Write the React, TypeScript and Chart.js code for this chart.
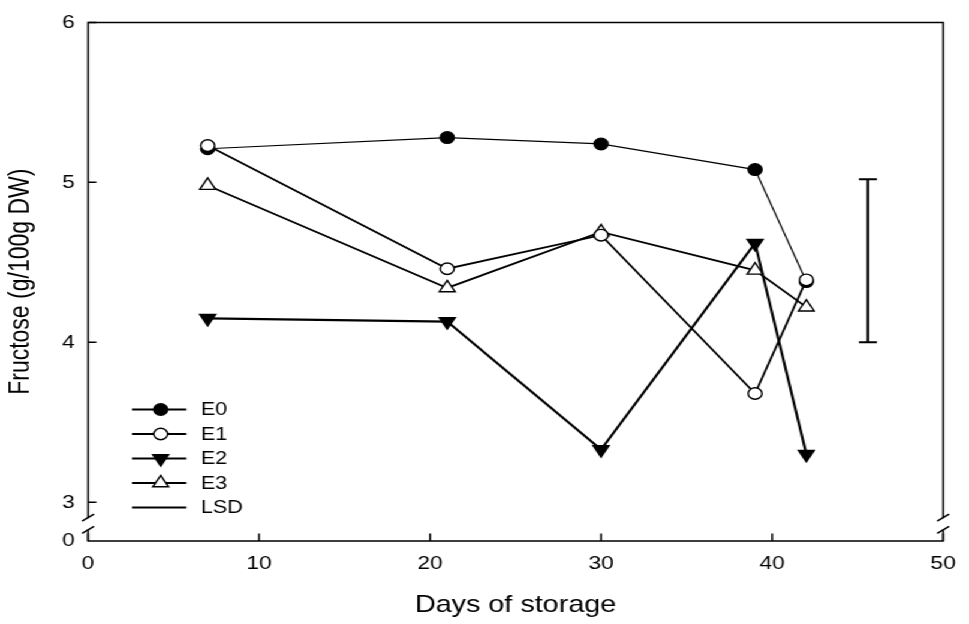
import React, { useEffect, useRef } from 'react';
import { Chart, registerables } from 'chart.js';

Chart.register(...registerables);

// ---------------- data ----------------
const days = [7, 21, 30, 39, 42];
const e0 = [5.21, 5.28, 5.24, 5.08, 4.38];
const e1 = [5.23, 4.46, 4.67, 3.68, 4.39];
const e2 = [4.15, 4.13, 3.33, 4.62, 3.30];
const e3 = [4.98, 4.34, 4.69, 4.45, 4.22];
const lsdDay = [45.6, 45.6];
const lsdRange = [4.0, 5.02];
const seriesNames = ['E0', 'E1', 'E2', 'E3', 'LSD'];
const xTickValues = [0, 10, 20, 30, 40, 50];
const yTickValues = [3, 4, 5, 6];
const yZeroAt = 2.758; // where the broken axis shows its "0"

// ---------------- geometry / style ----------------
const W = 808;
const H = 624;
const SX = 969 / W;
const FONT = '"Liberation Sans", Arial, Helvetica, sans-serif';

const toPts = (ys: number[]) => days.map((d, i) => ({ x: d, y: ys[i] }));

function drawMarker(ctx: CanvasRenderingContext2D, style: string, x: number, y: number, r: number, rotDeg: number, fill: string, stroke: string, bw: number) {
  ctx.save();
  ctx.beginPath();
  if (style === 'circle') {
    ctx.arc(x, y, r, 0, Math.PI * 2);
  } else {
    let rad = (rotDeg * Math.PI) / 180;
    const step = (Math.PI * 2) / 3;
    ctx.moveTo(x + Math.sin(rad) * r, y - Math.cos(rad) * r);
    rad += step;
    ctx.lineTo(x + Math.sin(rad) * r, y - Math.cos(rad) * r);
    rad += step;
    ctx.lineTo(x + Math.sin(rad) * r, y - Math.cos(rad) * r);
    ctx.closePath();
  }
  ctx.fillStyle = fill;
  ctx.fill();
  ctx.lineWidth = bw;
  ctx.strokeStyle = stroke;
  ctx.stroke();
  ctx.restore();
}

const framePlugin = {
  id: 'frameAndBreaks',
  beforeDatasetsDraw(chart: any) {
    const { ctx, chartArea, scales } = chart;
    const { left, right, top, bottom } = chartArea;
    const y = scales.y;
    const x = scales.x;
    ctx.save();
    ctx.strokeStyle = '#000';
    ctx.lineWidth = 1.5;
    ctx.lineCap = 'butt';
    ctx.beginPath();
    ctx.rect(left, top, right - left, bottom - top);
    ctx.stroke();
    // inward ticks
    ctx.beginPath();
    yTickValues.forEach((v) => {
      const py = y.getPixelForValue(v);
      ctx.moveTo(left, py);
      ctx.lineTo(left + 7, py);
    });
    xTickValues.forEach((v) => {
      const px = x.getPixelForValue(v);
      ctx.moveTo(px, bottom);
      ctx.lineTo(px, bottom - 7.5);
    });
    ctx.stroke();
    // axis breaks
    const p3 = y.getPixelForValue(3);
    const p0 = y.getPixelForValue(yZeroAt);
    const gTop = p3 + 0.41 * (p0 - p3);
    const gBot = p3 + 0.70 * (p0 - p3);
    [left, right].forEach((ax) => {
      ctx.fillStyle = '#fff';
      ctx.fillRect(ax - 2, gTop, 4, gBot - gTop);
      ctx.beginPath();
      [gTop - 0.5, gBot + 0.5].forEach((cy) => {
        ctx.moveTo(ax - 5, cy + 3.5);
        ctx.lineTo(ax + 5, cy - 3.5);
      });
      ctx.stroke();
    });
    ctx.restore();
  },
};

const legendPlugin = {
  id: 'insideLegend',
  afterDraw(chart: any) {
    const { ctx, chartArea } = chart;
    const x0 = chartArea.left + 36.6;
    const x1 = chartArea.left + 82;
    const xm = chartArea.left + 60.6;
    const xt = chartArea.left + 94;
    const yStart = chartArea.bottom - 131.5;
    const step = 24.5;
    ctx.save();
    chart.data.datasets.forEach((ds: any, i: number) => {
      const yy = yStart + i * step;
      ctx.beginPath();
      ctx.strokeStyle = '#000';
      ctx.lineWidth = 1.8;
      ctx.moveTo(x0, yy);
      ctx.lineTo(x1, yy);
      ctx.stroke();
      if (ds.legendMarker) {
        drawMarker(ctx, ds.pointStyle, xm, yy, ds.pointRadius, ds.pointRotation || 0, ds.pointBackgroundColor, '#000', ds.pointBorderWidth);
      }
      ctx.fillStyle = '#000';
      ctx.font = `18px ${FONT}`;
      ctx.textAlign = 'left';
      ctx.textBaseline = 'middle';
      ctx.fillText(seriesNames[i], xt, yy + 1);
    });
    ctx.restore();
  },
};

function makeSeries(label: string, ys: number[], style: string, rot: number, fill: string, lw: number, r: number, order: number) {
  return {
    label,
    data: toPts(ys),
    borderColor: '#000',
    borderWidth: lw,
    pointStyle: style,
    pointRotation: rot,
    pointRadius: r,
    pointHoverRadius: r,
    pointBackgroundColor: fill,
    pointBorderColor: '#000',
    pointBorderWidth: 1.4,
    tension: 0,
    fill: false,
    order,
    legendMarker: true,
  };
}

export default function App() {
  const ref = useRef<HTMLCanvasElement>(null);
  useEffect(() => {
    document.body.style.margin = '0';
    const canvas = ref.current;
    if (!canvas) return;
    const chart = new Chart(canvas, {
      type: 'line',
      data: {
        datasets: [
          makeSeries('E0', e0, 'circle', 0, '#000', 1.2, 5.8, 4),
          makeSeries('E1', e1, 'circle', 0, '#fff', 1.8, 5.8, 1),
          makeSeries('E2', e2, 'triangle', 180, '#000', 2.2, 7.6, 2),
          makeSeries('E3', e3, 'triangle', 0, '#fff', 1.8, 7.6, 3),
          {
            label: 'LSD',
            data: lsdDay.map((d, i) => ({ x: d, y: lsdRange[i] })),
            borderColor: '#000',
            borderWidth: 2.2,
            pointStyle: 'line',
            pointRadius: 7.5,
            pointHoverRadius: 7.5,
            pointBorderColor: '#000',
            pointBorderWidth: 2,
            order: 5,
            legendMarker: false,
          } as any,
        ],
      },
      options: {
        animation: false,
        responsive: false,
        devicePixelRatio: 1,
        events: [],
        layout: { padding: { top: 18, right: 17.5, left: 0, bottom: 0 } },
        plugins: { legend: { display: false }, tooltip: { enabled: false } },
        scales: {
          x: {
            type: 'linear',
            min: 0,
            max: 50,
            afterBuildTicks: (s: any) => {
              s.ticks = xTickValues.map((v) => ({ value: v }));
            },
            afterFit: (s: any) => {
              s.height = 83;
            },
            grid: { display: false, drawTicks: false },
            border: { display: false },
            ticks: {
              padding: 11,
              color: '#000',
              autoSkip: false,
              maxRotation: 0,
              font: { family: FONT, size: 19 },
              callback: (v: any) => String(v),
            },
            title: {
              display: true,
              text: 'Days of storage',
              color: '#000',
              font: { family: FONT, size: 24 },
              padding: { top: 0, bottom: 4 },
            },
          },
          y: {
            type: 'linear',
            min: yZeroAt,
            max: 6,
            afterBuildTicks: (s: any) => {
              s.ticks = [yZeroAt, ...yTickValues].map((v) => ({ value: v }));
            },
            afterFit: (s: any) => {
              s.width = 73.4;
            },
            grid: { display: false, drawTicks: false },
            border: { display: false },
            ticks: {
              padding: 11,
              color: '#000',
              autoSkip: false,
              font: { family: FONT, size: 19 },
              callback: (v: any) => (Math.abs(Number(v) - yZeroAt) < 1e-6 ? '0' : String(v)),
            },
            title: {
              display: true,
              text: 'Fructose (g/100g DW)',
              color: '#000',
              font: { family: FONT, size: 23 },
              padding: { top: 4, bottom: 0 },
            },
          },
        },
      } as any,
      plugins: [framePlugin, legendPlugin],
    });
    return () => chart.destroy();
  }, []);
  return (
    <div
      style={{
        position: 'absolute',
        left: 0,
        top: 0,
        width: W + 'px',
        height: H + 'px',
        transform: `scaleX(${SX})`,
        transformOrigin: '0 0',
        background: '#fff',
      }}
    >
      <canvas ref={ref} width={W} height={H} style={{ width: W + 'px', height: H + 'px', display: 'block' }} />
    </div>
  );
}
